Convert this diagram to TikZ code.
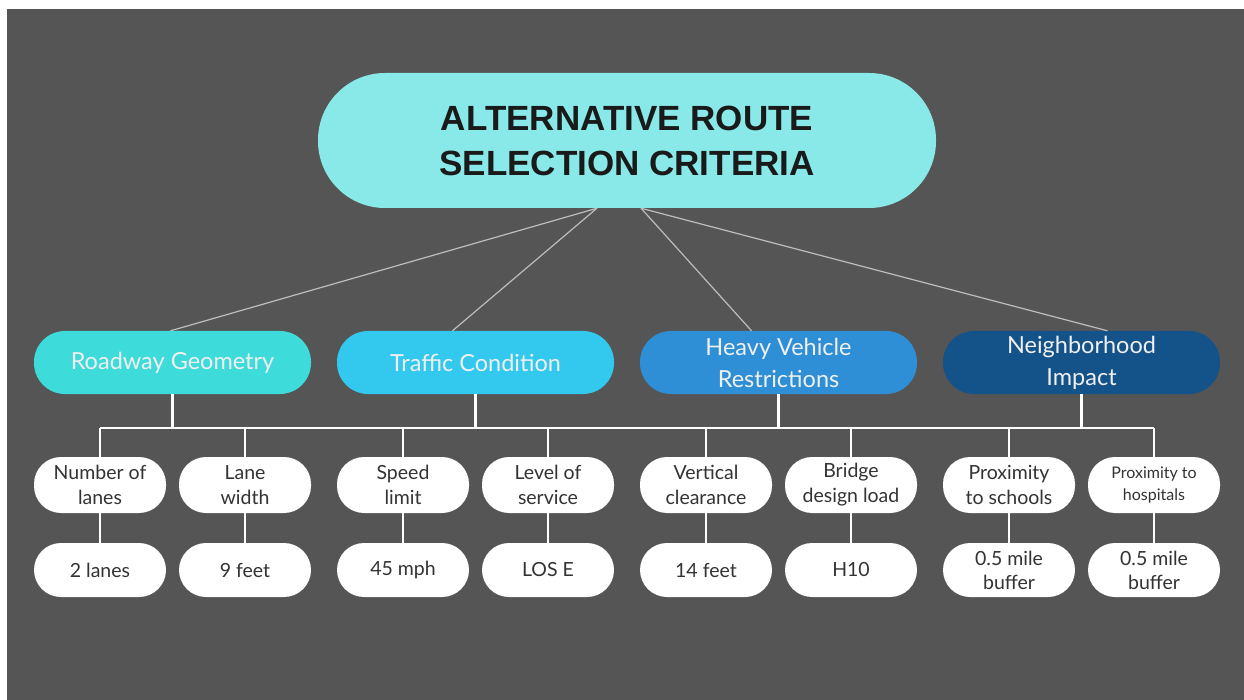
\documentclass[tikz,border=0pt]{standalone}
\usepackage{fontspec}
\setmainfont{Lato}
\newfontfamily\titlefont{Liberation Sans}
\usetikzlibrary{calc}
\definecolor{bg}{HTML}{555555}
\definecolor{titlefill}{HTML}{88E9E8}
\definecolor{cRoad}{HTML}{3DDBD9}
\definecolor{cTraffic}{HTML}{33C8EE}
\definecolor{cHeavy}{HTML}{2E8FD6}
\definecolor{cNeigh}{HTML}{14528A}
\definecolor{darktext}{HTML}{1A1A1A}
\definecolor{leaftext}{HTML}{333333}
\definecolor{thinline}{HTML}{BDBDBD}
\tikzset{
  titlebox/.style={fill=titlefill, rounded corners=67pt, minimum width=618pt, minimum height=135pt, inner sep=0pt, align=center, text=darktext, font=\titlefont\fontsize{35}{45}\selectfont\bfseries},
  catbox/.style={fill=#1, rounded corners=31pt, minimum width=277pt, minimum height=63pt, inner sep=0pt, align=center, text=white!94!black, font=\fontsize{23.5}{32}\selectfont},
  leafbox/.style={fill=white, rounded corners=27pt, minimum width=132pt, minimum height=56pt, inner sep=0pt, align=center, text=leaftext, font=\fontsize{19.5}{25}\selectfont},
  valbox/.style={fill=white, rounded corners=27pt, minimum width=132pt, minimum height=54pt, inner sep=0pt, align=center, text=leaftext, font=\fontsize{19.5}{24}\selectfont},
  thin/.style={draw=thinline, line width=1.2pt},
  wire/.style={draw=white, line width=2.2pt},
}
\begin{document}
\begin{tikzpicture}[x=1pt,y=-1pt]
\fill[white] (0,0) rectangle (1244,700);
\fill[bg] (7,9) rectangle (1244,700);
\useasboundingbox (0,0) rectangle (1244,700);

\node[titlebox] (title) at (627,140.5) {ALTERNATIVE ROUTE\\SELECTION CRITERIA};

\node[catbox=cRoad] (road) at (172.5,362.5) {Roadway Geometry};
\node[catbox=cTraffic] (traffic) at (475.5,362.5) {Traffic Condition};
\node[catbox=cHeavy] (heavy) at (778.5,362.5) {Heavy Vehicle\\Restrictions};
\node[catbox=cNeigh] (neigh) at (1081.5,362.5) {Neighborhood\\Impact};

\node[leafbox] (l1) at (100,485) {Number of\\lanes};
\node[leafbox] (l2) at (245,485) {Lane\\width};
\node[leafbox] (l3) at (403,485) {Speed\\limit};
\node[leafbox] (l4) at (548,485) {Level of\\service};
\node[leafbox] (l5) at (706,485) {Vertical\\clearance};
\node[leafbox] (l6) at (851,485) {Bridge\\design load};
\node[leafbox] (l7) at (1009,485) {Proximity\\to schools};
\node[leafbox, font=\fontsize{16}{22}\selectfont] (l8) at (1154,485) {Proximity to\\hospitals};

\node[valbox] (v1) at (100,570) {2 lanes};
\node[valbox] (v2) at (245,570) {9 feet};
\node[valbox] (v3) at (403,570) {45 mph};
\node[valbox] (v4) at (548,570) {LOS E};
\node[valbox] (v5) at (706,570) {14 feet};
\node[valbox] (v6) at (851,570) {H10};
\node[valbox] (v7) at (1009,570) {0.5 mile\\buffer};
\node[valbox] (v8) at (1154,570) {0.5 mile\\buffer};

% thin connectors from title
\coordinate (tl) at ($(title.south)+(-30,0)$);
\coordinate (tr) at ($(title.south)+(14,0)$);
\draw[thin] (tl) -- ($(road.north)+(-2,0)$);
\draw[thin] (tl) -- ($(traffic.north)+(-23,0)$);
\draw[thin] (tr) -- ($(heavy.north)+(-27,0)$);
\draw[thin] (tr) -- ($(neigh.north)+(26,0)$);

% bus
\coordinate (bus) at (0,428);
\draw[wire] (l1.north |- bus) -- (l8.north |- bus);
\foreach \c in {road,traffic,heavy,neigh}
  \draw[wire] (\c.south) -- (\c.south |- bus);
\foreach \i in {1,...,8}{
  \draw[wire] (l\i.north |- bus) -- (l\i.north);
  \draw[wire] (l\i.south) -- (v\i.north);
}
\end{tikzpicture}
\end{document}
